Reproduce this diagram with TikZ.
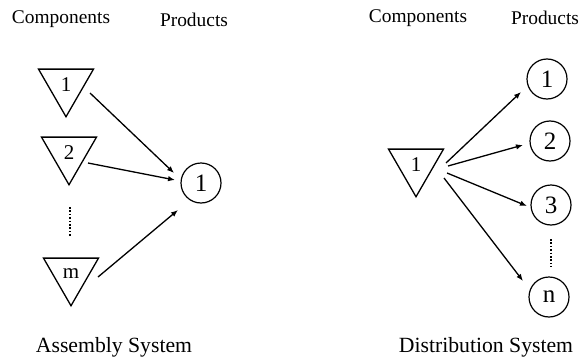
\documentclass[tikz,border=0pt]{standalone}
\usepackage{fontspec}
\setmainfont{Liberation Serif}
\usetikzlibrary{shapes.geometric,arrows.meta}

\tikzset{
  comp/.style={draw, line width=1.3pt, regular polygon, regular polygon sides=3,
    shape border rotate=180, minimum size=63.5pt, inner sep=0pt,
    font=\fontsize{21}{21}\selectfont},
  prod/.style={draw, line width=1.2pt, circle, minimum size=40pt, inner sep=0pt,
    font=\fontsize{25}{25}\selectfont},
  head/.style={font=\fontsize{19.4}{20}\selectfont},
  title/.style={font=\fontsize{21.7}{22}\selectfont},
  arr/.style={line width=1.3pt, -{Latex[length=7pt,width=5.5pt]}},
  more/.style={line width=2.4pt, dash pattern=on 1.6pt off 1.8pt}
}

\begin{document}
\begin{tikzpicture}[x=1pt,y=-1pt]
\useasboundingbox (0,0) rectangle (580,361);

% Assembly system: m components feed one product
\node[head] (ahc) at (61,19) {Components};
\node[head] (ahp) at (194,20) {Products};

\node[comp] (a1) at (66,85) {1};
\node[comp] (a2) at (69,153) {2};
\node[comp] (am) at (71,274) {m};
\coordinate (adtop) at (70,207);
\coordinate (adbot) at (70,237);
\draw[more] (adtop) -- (adbot);

\node[prod] (ap1) at (201,183) {1};

\draw[arr] ([shift={(24,8)}]a1.center) -- ([shift={(-27,-10)}]ap1.center);
\draw[arr] ([shift={(19,10)}]a2.center) -- ([shift={(-26,-3)}]ap1.center);
\draw[arr] ([shift={(27,3)}]am.center) -- ([shift={(-23,27)}]ap1.center);

\node[title] (at) at (114,347) {Assembly System};

% Distribution system: one component feeds n products
\node[head] (dhc) at (418,18) {Components};
\node[head] (dhp) at (545,18) {Products};

\node[comp] (d1) at (416,165) {1};

\node[prod] (dp1) at (547,79) {1};
\node[prod] (dp2) at (550,141) {2};
\node[prod] (dp3) at (551,205) {3};
\node[prod] (dpn) at (549,297) {n};
\coordinate (ddtop) at (551,239);
\coordinate (ddbot) at (551,267);
\draw[more] (ddtop) -- (ddbot);

\draw[arr] ([shift={(30,-2)}]d1.center) -- ([shift={(-26,13)}]dp1.center);
\draw[arr] ([shift={(32,1)}]d1.center) -- ([shift={(-27,4)}]dp2.center);
\draw[arr] ([shift={(31,8)}]d1.center) -- ([shift={(-24,1)}]dp3.center);
\draw[arr] ([shift={(28,13)}]d1.center) -- ([shift={(-26,-16)}]dpn.center);

\node[title] (dt) at (486,347) {Distribution System};
\end{tikzpicture}
\end{document}
